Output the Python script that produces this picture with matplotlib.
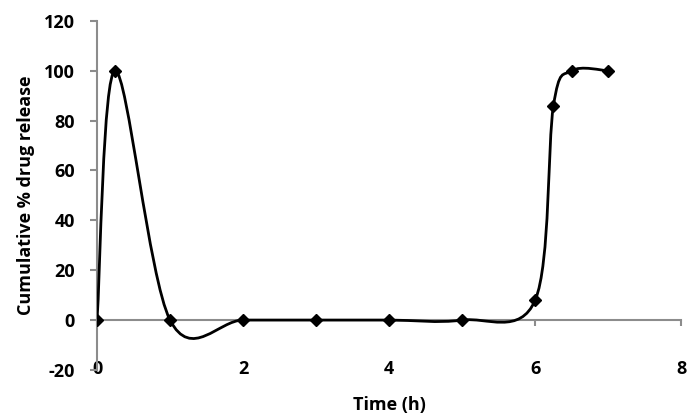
import numpy as np
import matplotlib.pyplot as plt
from matplotlib.path import Path
from matplotlib.patches import PathPatch

plt.rcParams['font.family'] = ['Open Sans', 'DejaVu Sans']
plt.rcParams['font.weight'] = 'bold'
plt.rcParams['axes.unicode_minus'] = False

time_h = [0, 0.25, 1, 2, 3, 4, 5, 6, 6.25, 6.5, 7]
release = [0, 100, 0, 0, 0, 0, 0, 8, 86, 100, 100]

x_ticks = [0, 2, 4, 6, 8]
y_ticks = [-20, 0, 20, 40, 60, 80, 100, 120]


def smooth_path(xs, ys):
    # excel-like smoothed line: cubic bezier, catmull-rom style control points
    p = np.column_stack([xs, ys]).astype(float)
    n = len(p)
    verts = [p[0]]
    codes = [Path.MOVETO]
    for i in range(n - 1):
        p0 = p[i - 1] if i > 0 else p[i]
        p1 = p[i]
        p2 = p[i + 1]
        p3 = p[i + 2] if i + 2 < n else p[i + 1]
        c1 = p1 + (p2 - p0) / 6
        c2 = p2 - (p3 - p1) / 6
        verts += [c1, c2, p2]
        codes += [Path.CURVE4] * 3
    return Path(verts, codes)


fig = plt.figure(figsize=(6.98, 4.18), dpi=100)
ax = fig.add_axes([0.139, 0.115, 0.837, 0.835])

ax.add_patch(PathPatch(smooth_path(time_h, release), facecolor='none',
                       edgecolor='black', lw=2, zorder=3))
ax.plot(time_h, release, ls='none', marker='D', ms=6.5, color='black', zorder=4)

ax.set_xlim(0, 8)
ax.set_ylim(-20, 120)
ax.set_xticks(x_ticks)
ax.set_yticks(y_ticks)

ax.spines['top'].set_visible(False)
ax.spines['right'].set_visible(False)
ax.spines['bottom'].set_position(('data', 0))
for s in ['left', 'bottom']:
    ax.spines[s].set_color('#8c8c8c')
    ax.spines[s].set_linewidth(1.5)

ax.tick_params(axis='y', direction='out', length=5, width=1.5, color='#8c8c8c',
               pad=11, labelsize=13)
ax.tick_params(axis='x', direction='out', length=4, width=1.5, color='#8c8c8c',
               pad=25, labelsize=13)

ax.set_xlabel('Time (h)', fontsize=13, fontweight='bold', labelpad=13)
ax.set_ylabel('Cumulative % drug release', fontsize=13, fontweight='bold', labelpad=6)

fig.savefig('out.png', dpi=100)
